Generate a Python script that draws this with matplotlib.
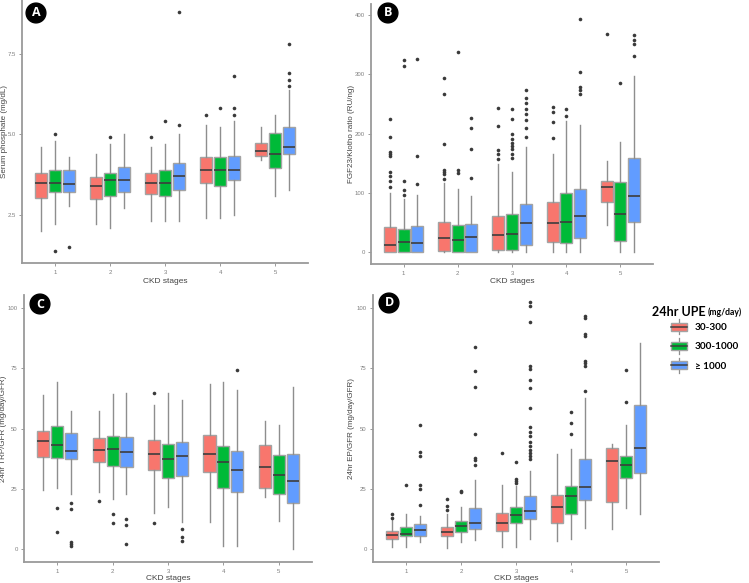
import matplotlib
matplotlib.use("Agg")
import matplotlib.pyplot as plt
from matplotlib.patches import Patch, Rectangle
from matplotlib.lines import Line2D
from matplotlib.legend_handler import HandlerBase

# CKD stages and proteinuria groups
stages = [1, 2, 3, 4, 5]
groups = ["30-300", "300-1000", "\u2265 1000"]
colors = ["#F8766D", "#00BA38", "#619CFF"]

# Panel A: serum phosphate (mg/dL), rows = groups, cols = stages
A_lo = [[2.00, 2.19, 2.29, 2.39, 4.19], [2.19, 2.09, 2.29, 2.39, 3.09], [2.78, 2.70, 2.29, 2.49, 3.27]]
A_q1 = [[3.01, 2.99, 3.14, 3.49, 4.33], [3.19, 3.09, 3.09, 3.39, 3.94], [3.19, 3.19, 3.27, 3.59, 4.39]]
A_med = [[3.49, 3.39, 3.49, 3.88, 4.48], [3.49, 3.59, 3.49, 3.88, 4.39], [3.44, 3.59, 3.70, 3.88, 4.60]]
A_q3 = [[3.78, 3.68, 3.78, 4.28, 4.72], [3.88, 3.78, 3.88, 4.28, 5.05], [3.88, 3.97, 4.09, 4.33, 5.23]]
A_hi = [[4.59, 4.38, 4.59, 5.30, 5.21], [4.79, 4.69, 4.69, 5.21, 5.60], [4.28, 5.00, 5.00, 5.40, 6.39]]
A_out = [
    [[], [], [4.9], [5.6], []],
    [[5.0, 1.36], [4.9], [5.4], [5.81], []],
    [[1.48], [], [5.3, 8.81], [5.6, 5.81, 6.8], [6.5, 6.7, 6.91, 7.82]],
]

# Panel B: FGF23/Klotho ratio (RU/ng)
B_lo = [[0.5, 1, 1, 1, 45.4], [0.5, 1, 1, 1, 1], [0.5, 1, 1, 1, 1]]
B_q1 = [[1, 2.2, 3.4, 17.4, 84], [1, 1, 4.5, 16.3, 19], [1, 1, 12.3, 24.7, 51]]
B_med = [[12.3, 24.1, 29.2, 49.9, 110], [16.8, 21.3, 30.9, 52, 65], [15.7, 25.8, 49.9, 61.7, 95.4]]
B_q3 = [[42.6, 51, 61.7, 84, 119.5], [39.3, 46.6, 64, 100.4, 119], [43.8, 47.7, 81.9, 106.6, 159.3]]
B_hi = [[100.4, 116, 148.7, 165.5, 153.7], [89.8, 106.6, 135, 221, 185.7], [96.5, 95.4, 176.7, 214, 297]]
B_out = [
    [[110.5, 121, 128, 136, 161.6, 166, 169, 194, 224],
     [124, 132, 136, 138, 183, 266, 293],
     [157, 166, 172.8, 213, 243.5],
     [192, 219, 236, 244.6],
     [367.5]],
    [[96.5, 105.5, 120, 313, 323],
     [133.5, 139, 337.7],
     [158.8, 165.5, 174, 178.4, 184, 190.7, 198.6, 224.4, 241.2],
     [230, 241],
     [285]],
    [[115, 162.7, 326],
     [125.7, 174.5, 209, 226],
     [195, 208.7, 222.7, 233, 242, 251, 259, 273.8],
     [266.5, 272.7, 277.7, 303, 393],
     [330, 350.6, 358, 365]],
]

# Panel C: 24hr TRP/GFR (mg/day/GFR)
C_lo = [[24.6, 23.6, 14.9, 11.3, 21.7], [25.3, 21.0, 17.4, 1.5, 11.5], [23.1, 23.1, 11.2, 1.2, 0.0]]
C_q1 = [[38.4, 36.3, 32.7, 31.9, 25.3], [37.8, 34.4, 29.7, 25.4, 22.9], [37.2, 34.1, 30.4, 23.9, 19.3]]
C_med = [[44.8, 41.2, 39.6, 39.6, 34.1], [43.1, 41.6, 37.2, 36.2, 30.8], [40.7, 40.2, 38.7, 32.7, 28.3]]
C_q3 = [[49.0, 46.3, 45.3, 47.2, 43.2], [51.0, 46.8, 43.6, 43.0, 39.0], [48.3, 46.4, 44.6, 40.6, 39.6]]
C_hi = [[64.1, 57.2, 60.0, 68.6, 53.2], [69.3, 64.2, 64.8, 69.2, 51.4], [57.3, 64.8, 62.0, 65.9, 67.3]]
C_out = [
    [[], [19.9], [64.8, 10.8], [], []],
    [[17.1, 7.3], [14.8, 11.0], [], [], []],
    [[19.1, 16.7, 3.0, 2.2, 1.5], [12.7, 10.1, 2.1], [8.4, 5.2, 3.6], [74.3], []],
]

# Panel D: 24hr EP/GFR (mg/day/GFR)
D_lo = [[1.1, 0.7, 1.1, 3.5, 8.3], [1.1, 2.8, 1.0, 4.4, 17.2], [2.8, 3.9, 4.1, 9.0, 14.8]]
D_q1 = [[4.3, 5.5, 7.6, 10.7, 19.6], [5.4, 7.1, 10.7, 14.8, 29.5], [5.5, 8.3, 12.4, 20.2, 31.8]]
D_med = [[5.9, 7.2, 10.8, 17.3, 36.7], [6.5, 9.7, 14.2, 21.9, 35.1], [8.0, 10.8, 16.0, 25.9, 42.0]]
D_q3 = [[7.7, 9.4, 15.1, 22.4, 41.8], [9.1, 11.6, 17.3, 26.3, 38.5], [10.5, 17.0, 21.9, 37.2, 59.8]]
D_hi = [[12.4, 14.5, 26.8, 39.4, 43.6], [14.8, 17.3, 26.3, 41.4, 51.7], [13.6, 28.8, 32.5, 62.9, 85.5]]
D_out = [
    [[13.1, 14.5], [16.2, 17.8, 21.0], [39.7], [], []],
    [[26.8], [23.7, 24.1], [27.5, 28.4, 29.0, 36.1], [47.7, 52.4, 56.7], [60.9, 74.5]],
    [[18.3, 24.8, 26.7, 38.7, 40.4, 51.6],
     [35.0, 36.8, 37.8, 47.9, 67.4, 74.0, 84.0],
     [37.6, 38.7, 39.8, 41.2, 42.9, 44.5, 47.0, 48.8, 50.5, 58.6, 66.7, 70.1, 74.7, 76.1, 94.1, 101.0, 102.4],
     [65.4, 76.1, 77.2, 78.1, 88.2, 89.2, 95.7, 96.8],
     []],
]

W, H = 749, 583
BOX_EDGE = "#a3a3a3"
WHISK = "#8e8e8e"
MED = "#3d3d3d"
AXIS = "#9a9a9a"
TICKLAB = "#7f7f7f"


def px_rect(x0, y0, x1, y1):
    # pixel box (top-left origin) -> figure fraction rect
    return [x0 / W, 1 - y1 / H, (x1 - x0) / W, (y1 - y0) / H]


def draw_panel(ax, lo, q1, med, q3, hi, out):
    offsets = [-0.25, 0.0, 0.25]
    for g in range(3):
        stats = []
        for s in range(len(stages)):
            stats.append(dict(whislo=lo[g][s], q1=q1[g][s], med=med[g][s],
                              q3=q3[g][s], whishi=hi[g][s], fliers=out[g][s]))
        pos = [st + offsets[g] for st in stages]
        ax.bxp(stats, positions=pos, widths=0.22, patch_artist=True, showcaps=False,
               boxprops=dict(facecolor=colors[g], edgecolor=BOX_EDGE, linewidth=1.0),
               medianprops=dict(color=MED, linewidth=1.2),
               whiskerprops=dict(color=WHISK, linewidth=1.0),
               flierprops=dict(marker="o", markersize=2.6, markerfacecolor="#3a3a3a",
                               markeredgecolor="none"),
               manage_ticks=False)
    ax.set_xlim(0.4, 5.6)
    ax.set_xticks(stages)
    ax.set_xticklabels([str(s) for s in stages])
    for side in ["top", "right"]:
        ax.spines[side].set_visible(False)
    for side in ["left", "bottom"]:
        ax.spines[side].set_color(AXIS)
        ax.spines[side].set_linewidth(1.3)
    ax.tick_params(axis="both", colors=AXIS, labelcolor=TICKLAB, labelsize=4.3,
                   length=2, width=0.7)
    ax.tick_params(axis="y", pad=2.5)
    ax.tick_params(axis="x", pad=3)
    ax.set_xlabel("CKD stages", fontsize=6, color="#444444")


plt.rcParams["font.family"] = ["Liberation Sans", "DejaVu Sans"]
fig = plt.figure(figsize=(W / 100, H / 100), dpi=100)

axA = fig.add_axes(px_rect(22, 0, 308, 263))
axB = fig.add_axes(px_rect(371, 4, 653, 264))
axC = fig.add_axes(px_rect(24, 295, 312, 562))
axD = fig.add_axes(px_rect(373, 295, 659, 562))

draw_panel(axA, A_lo, A_q1, A_med, A_q3, A_hi, A_out)
draw_panel(axB, B_lo, B_q1, B_med, B_q3, B_hi, B_out)
draw_panel(axC, C_lo, C_q1, C_med, C_q3, C_hi, C_out)
draw_panel(axD, D_lo, D_q1, D_med, D_q3, D_hi, D_out)

axA.set_ylim(0.99, 9.18)
axA.set_yticks([2.5, 5.0, 7.5])
axB.set_ylim(-19.5, 418)
axB.set_yticks([0, 100, 200, 300, 400])
for ax in (axC, axD):
    ax.set_ylim(-5.3, 105.4)
    ax.set_yticks([0, 25, 50, 75, 100])

# y label right edge / x label top, in axes coords
ylabels = [
    (axA, "Serum phosphate (mg/dL)", -0.050, -0.057),
    (axB, "FGF23/Klotho ratio (RU/ng)", -0.058, -0.054),
    (axC, "24hr TRP/GFR (mg/day/GFR)", -0.060, -0.049),
    (axD, "24hr EP/GFR (mg/day/GFR)", -0.064, -0.049),
]
for ax, lab, xc, yc in ylabels:
    ax.set_ylabel(lab, fontsize=5.8, color="#444444")
    ax.yaxis.set_label_coords(xc, 0.5)
    ax.xaxis.set_label_coords(0.5, yc)

# panel letters in black circles
for letter, x, y in [("A", 36, 13), ("B", 388, 13), ("C", 40, 304), ("D", 389, 303)]:
    fig.text(x / W, 1 - y / H, letter, color="white", fontsize=9, fontweight="bold",
             ha="center", va="center", family="Open Sans",
             bbox=dict(boxstyle="circle,pad=0.27", facecolor="black", edgecolor="black"))


class BoxKey(HandlerBase):
    def create_artists(self, legend, orig_handle, xdescent, ydescent, width, height,
                       fontsize, trans):
        x0, y0 = -xdescent, -ydescent
        cx, cy = x0 + width / 2, y0 + height / 2
        bh = height * 0.62
        whisk = Line2D([cx, cx], [y0 - height * 0.08, y0 + height * 1.08], color=WHISK,
                       linewidth=0.9, transform=trans)
        box = Rectangle((x0, cy - bh / 2), width, bh, facecolor=orig_handle.get_facecolor(),
                        edgecolor=BOX_EDGE, linewidth=1.0, transform=trans)
        med = Line2D([x0, x0 + width], [cy, cy], color=MED, linewidth=1.1, transform=trans)
        return [whisk, box, med]


handles = [Patch(facecolor=c) for c in colors]
fig.legend(handles, groups, handler_map={Patch: BoxKey()}, loc="upper left",
           bbox_to_anchor=(671 / W, 1 - 320 / H), frameon=False,
           prop=dict(family="Lato", weight="bold", size=7.2),
           handlelength=1.6, handleheight=1.65, labelspacing=0.62, handletextpad=0.8,
           borderaxespad=0, borderpad=0)

t1 = fig.text(652 / W, 1 - 312 / H, "24hr UPE", fontsize=9, fontweight="bold",
              family="Lato", ha="left", va="center")
fig.canvas.draw()
bb = t1.get_window_extent()
fig.text((bb.x1 + 2.5) / W, 1 - 312.5 / H, "(mg/day)", fontsize=6.2, fontweight="bold",
         family="Lato", ha="left", va="center")

fig.savefig("out.png", dpi=100)
